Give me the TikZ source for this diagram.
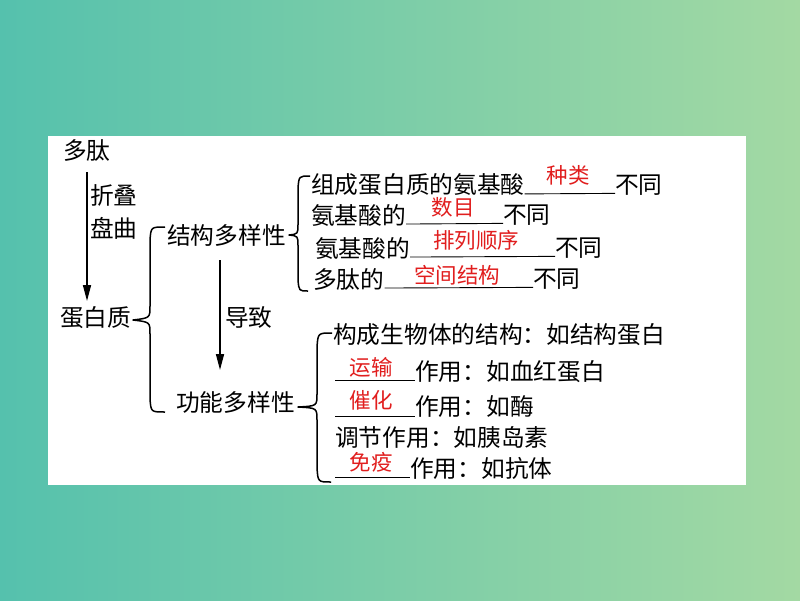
\documentclass[tikz,border=0pt]{standalone}
\usepackage{fontspec}
\usetikzlibrary{arrows.meta}
\newfontfamily\cjkfam{Noto Sans CJK SC}
\newcommand\blkfnt{\cjkfam\fontsize{23.7}{28}\selectfont}
\newcommand\ansfnt{\cjkfam\fontsize{21.5}{26}\selectfont}
\definecolor{bgleft}{RGB}{85,193,173}
\definecolor{bgright}{RGB}{163,217,163}
\definecolor{ansred}{RGB}{225,30,30}
\begin{document}
\begin{tikzpicture}[x=1pt,y=-1pt,
  txt/.style={font=\blkfnt, anchor=west, inner sep=0pt},
  ans/.style={font=\ansfnt, text=ansred, inner sep=0pt},
  blank/.style={line width=0.9pt},
  bracepath/.style={line width=1.5pt, line join=round},
  flow/.style={line width=1.6pt, -{Triangle[width=8pt,length=16pt]}}]
\useasboundingbox (0,0) rectangle (800,600);
\shade[left color=bgleft, right color=bgright] (0,0) rectangle (800,600);
\fill[white] (48,136) rectangle (746,485);

% left column
\node[txt] (duotai) at (63,150) {多肽};
\node[txt] (zhedie) at (90,195) {折叠};
\node[txt] (panqu) at (90,228) {盘曲};
\node[txt] (dbz) at (60,318) {蛋白质};
\coordinate (a1s) at (87,172);
\coordinate (a1e) at (87,301);
\draw[flow] (a1s) -- (a1e);

% big brace
\coordinate (b1t) at (165,227);
\coordinate (b1m) at (133,320);
\coordinate (b1b) at (165,412);
\draw[bracepath] (b1t) .. controls (151,227) .. (150,240) -- (150,306)
  .. controls (150,318) .. (b1m) .. controls (150,322) .. (150,334) -- (150,399)
  .. controls (151,412) .. (b1b);

\node[txt] (jiegou) at (167,235) {结构多样性};
\node[txt] (daozhi) at (225,317) {导致};
\node[txt] (gongneng) at (176,402) {功能多样性};
\coordinate (a2s) at (220,260);
\coordinate (a2e) at (220,370);
\draw[flow] (a2s) -- (a2e);

% structure brace
\coordinate (b2t) at (310,176);
\coordinate (b2m) at (289,235);
\coordinate (b2b) at (308,291);
\draw[bracepath] (b2t) .. controls (299,176) .. (298,188) -- (298,224)
  .. controls (298,234) .. (b2m) .. controls (298,236) .. (298,246) -- (298,280)
  .. controls (299,291) .. (b2b);

% structure lines
\node[txt] (s1a) at (311,185) {组成蛋白质的氨基酸};
\node[txt] (s1b) at (615,185) {不同};
\draw[blank] (s1a.base east) -- (s1b.base west);
\node[ans] (s1r) at (568,175) {种类};

\node[txt] (s2a) at (311,215) {氨基酸的};
\node[txt] (s2b) at (503,215) {不同};
\draw[blank] (s2a.base east) -- (s2b.base west);
\node[ans] (s2r) at (453,207) {数目};

\node[txt] (s3a) at (315,248) {氨基酸的};
\node[txt] (s3b) at (555,248) {不同};
\draw[blank] (s3a.base east) -- (s3b.base west);
\node[ans] (s3r) at (476,240) {排列顺序};

\node[txt] (s4a) at (313,279) {多肽的};
\node[txt] (s4b) at (533,279) {不同};
\draw[blank] (s4a.base east) -- (s4b.base west);
\node[ans] (s4r) at (457,275) {空间结构};

% function brace
\coordinate (b3t) at (332,333);
\coordinate (b3m) at (298,407);
\coordinate (b3b) at (331,482);
\draw[bracepath] (b3t) .. controls (318,333) .. (317,347) -- (317,394)
  .. controls (317,406) .. (b3m) .. controls (317,408) .. (317,420) -- (317,468)
  .. controls (318,482) .. (b3b);

% function lines
\node[txt] (f1) at (333,335) {构成生物体的结构：如结构蛋白};

\node[txt] (f2b) at (415,372) {作用：如血红蛋白};
\coordinate (f2s) at (335,0);
\draw[blank] (f2s |- f2b.base) -- (f2b.base west);
\node[ans] (f2r) at (371,367) {运输};

\node[txt] (f3b) at (415,407) {作用：如酶};
\draw[blank] (f2s |- f3b.base) -- (f3b.base west);
\node[ans] (f3r) at (371,400) {催化};

\node[txt] (f4) at (335,437) {调节作用：如胰岛素};

\node[txt] (f5b) at (410,468) {作用：如抗体};
\draw[blank] (f2s |- f5b.base) -- (f5b.base west);
\node[ans] (f5r) at (371,462) {免疫};
\end{tikzpicture}
\end{document}
